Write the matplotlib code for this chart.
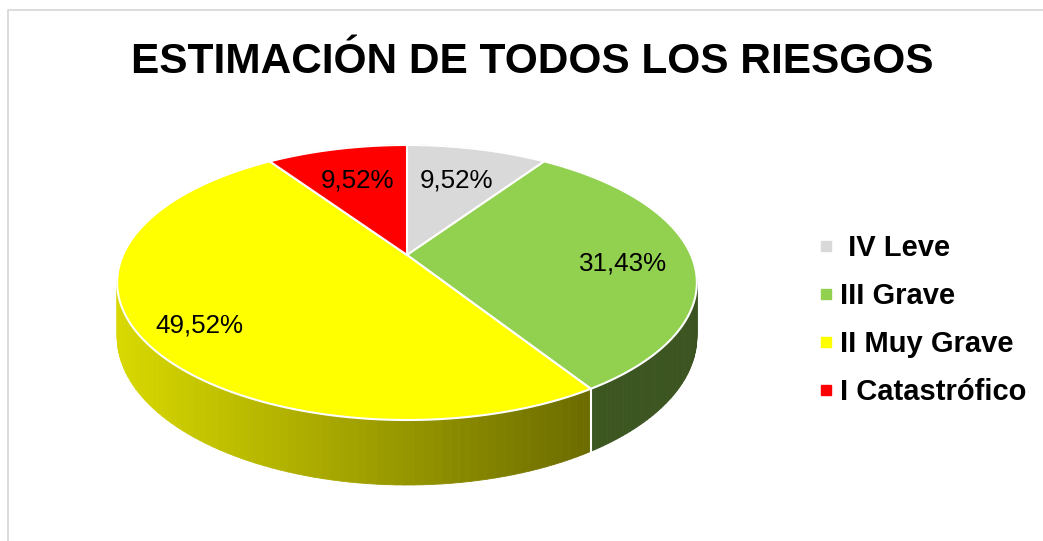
import numpy as np
import matplotlib
matplotlib.use('Agg')
import matplotlib.pyplot as plt
from matplotlib.patches import Polygon
from matplotlib.collections import PolyCollection
from matplotlib.lines import Line2D

plt.rcParams['font.family'] = ['Liberation Sans', 'DejaVu Sans']

title = 'ESTIMACIÓN DE TODOS LOS RIESGOS'
labels = [' IV Leve', 'III Grave', 'II Muy Grave', 'I Catastrófico']
values = [9.52, 31.43, 49.52, 9.52]
colors = ['#d9d9d9', '#92d050', '#ffff00', '#ff0000']

W, H = 1043, 541
fig = plt.figure(figsize=(W / 100, H / 100), dpi=100)
ax = fig.add_axes([0, 0, 1, 1])

wedges, texts, autotexts = ax.pie(values, colors=colors, startangle=90, counterclock=False,
                                  autopct=lambda p: f'{p:.2f}%'.replace('.', ','),
                                  pctdistance=0.7)

# fake 3d: perspective view of the unit disc, in pixels
cx, cy = 407, 255
rx, ry, k = 284, 132, 0.2
depth = 52
label_dist = [0.67, 0.76, 0.80, 0.67]
label_dy = [0, 7, 7, 0]


def proj(r, theta, drop=0.0):
    u = r * np.cos(theta)
    v = r * np.sin(theta)
    s = 1 / (1 + k * v)
    return cx + rx * u * s, cy - ry * v * s + drop * s


def shade(c, x):
    f = np.interp(x, [117, 590, 700], [0.85, 0.42, 0.40])
    rgb = np.array(matplotlib.colors.to_rgb(c))
    return tuple(rgb * f)


# side of the cake
quads, fcs, order = [], [], []
for w in wedges:
    c = w.get_facecolor()
    th = np.radians(np.linspace(w.theta1, w.theta2, 120))
    for a, b in zip(th[:-1], th[1:]):
        x1, y1 = proj(1, a)
        x2, y2 = proj(1, b)
        x3, y3 = proj(1, b, depth)
        x4, y4 = proj(1, a, depth)
        quads.append([(x1, y1), (x2, y2), (x3, y3), (x4, y4)])
        fcs.append(shade(c, (x1 + x2) / 2))
        order.append(np.sin((a + b) / 2))
idx = np.argsort(order)[::-1]
side = PolyCollection([quads[i] for i in idx], facecolors=[fcs[i] for i in idx],
                      edgecolors=[fcs[i] for i in idx], linewidths=0.6, zorder=1)
ax.add_collection(side)

# white seams on the visible side
for w in wedges:
    a = np.radians(w.theta1)
    if np.sin(a) < -0.2:
        x1, y1 = proj(1, a)
        x2, y2 = proj(1, a, depth)
        ax.plot([x1, x2], [y1, y2], color='white', lw=1.5, zorder=1.5)

# top of the cake
for w in wedges:
    th = np.radians(np.linspace(w.theta1, w.theta2, 200))
    xs, ys = proj(1, th)
    pts = [(cx, cy)] + list(zip(xs, ys))
    ax.add_patch(Polygon(pts, closed=True, facecolor=w.get_facecolor(),
                         edgecolor='white', lw=1.5, zorder=2))
    w.set_visible(False)

for t, r, dy in zip(autotexts, label_dist, label_dy):
    x, y = t.get_position()
    px, py = proj(r, np.arctan2(y, x))
    t.set_position((px, py + dy))
    t.set_fontsize(18.7)
    t.set_color('black')
    t.set_zorder(3)

ax.set_aspect('auto')
ax.set_xlim(0, W)
ax.set_ylim(H, 0)
ax.axis('off')

# chart border
ax.plot([8, 8, W + 5], [H + 5, 10, 10], color='#d9d9d9', lw=1.3, clip_on=False)

fig.text(532 / W, 1 - 73 / H, title, ha='center', va='baseline',
         fontsize=30.5, weight='bold')

handles = [Line2D([], [], marker='s', ls='', color=c, markersize=6.5) for c in colors]
fig.legend(handles, labels, loc='center left', bbox_to_anchor=(817 / W, 1 - 320 / H),
           frameon=False, prop={'weight': 'bold', 'size': 21}, handlelength=0.6,
           handletextpad=0.2, labelspacing=0.68, borderpad=0, borderaxespad=0)

fig.savefig('out.png', dpi=100)
